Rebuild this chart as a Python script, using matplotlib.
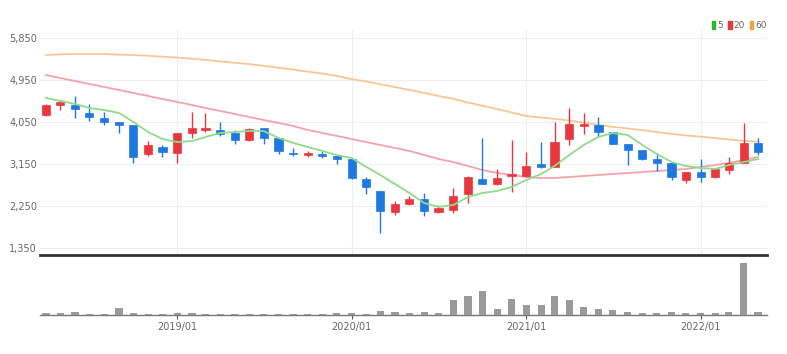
import numpy as np, pandas as pd
import matplotlib; matplotlib.use('Agg'); import matplotlib.pyplot as plt
import matplotlib.dates as mdates
from matplotlib.patches import Patch

plt.rcParams['font.family'] = ['Liberation Sans Narrow', 'DejaVu Sans']

# ---------------- data (monthly candles, 2018/04 .. 2022/05) ----------------
months = pd.date_range('2018-04-01', periods=50, freq='MS')
opens = [4193, 4407, 4407, 4236, 4129, 4043, 3980, 3359, 3509, 3381,
         3809, 3873, 3873, 3809, 3659, 3916, 3702, 3381, 3338, 3359,
         3317, 3252, 2825, 2569, 2121, 2291, 2398, 2121, 2164, 2505,
         2825, 2718, 2889, 2889, 3146, 3082, 3680, 3958, 3980, 3830,
         3573, 3445, 3252, 3167, 2804, 2975, 2868, 3017, 3167, 3595]
closes = [4407, 4471, 4321, 4150, 4043, 3980, 3295, 3552, 3402, 3809,
          3916, 3916, 3787, 3659, 3894, 3702, 3424, 3359, 3381, 3327,
          3252, 2846, 2654, 2142, 2291, 2398, 2142, 2206, 2462, 2868,
          2718, 2846, 2932, 3103, 3082, 3616, 4001, 4001, 3830, 3573,
          3445, 3252, 3167, 2868, 2975, 2868, 3039, 3167, 3595, 3402]
highs = [4428, 4514, 4600, 4428, 4257, 4043, 3980, 3637, 3552, 3809,
         4257, 4236, 4043, 3873, 3916, 3916, 3702, 3488, 3424, 3424,
         3317, 3260, 2868, 2569, 2355, 2462, 2526, 2270, 2633, 2889,
         3702, 3039, 3659, 3402, 3616, 4043, 4343, 4236, 4150, 3830,
         3573, 3445, 3381, 3167, 2975, 3252, 3039, 3295, 4022, 3702]
lows = [4172, 4300, 4129, 4065, 3980, 3809, 3167, 3317, 3295, 3167,
        3702, 3830, 3745, 3573, 3637, 3573, 3359, 3317, 3295, 3274,
        3146, 2830, 2505, 1670, 2057, 2270, 2035, 2099, 2099, 2313,
        2718, 2697, 2547, 2868, 3060, 3082, 3552, 3787, 3723, 3573,
        3124, 3231, 2996, 2804, 2740, 2761, 2846, 2932, 3167, 3338]
ma5 = [4557, 4493, 4428, 4343, 4300, 4236, 4044, 3830, 3680, 3616,
       3637, 3723, 3808, 3830, 3851, 3851, 3702, 3595, 3509, 3424,
       3338, 3274, 3082, 2911, 2718, 2526, 2312, 2227, 2269, 2440,
       2526, 2568, 2654, 2804, 2932, 3103, 3338, 3552, 3723, 3808,
       3766, 3552, 3360, 3188, 3103, 3060, 3039, 3124, 3188, 3253]
ma20 = [5049, 4984, 4920, 4856, 4792, 4728, 4664, 4600, 4535, 4471,
        4407, 4343, 4279, 4215, 4151, 4086, 4022, 3958, 3873, 3809,
        3745, 3680, 3616, 3552, 3488, 3424, 3338, 3253, 3188, 3103,
        3017, 2953, 2911, 2868, 2846, 2846, 2868, 2889, 2911, 2932,
        2953, 2975, 2996, 3017, 3039, 3082, 3124, 3167, 3231, 3295]
ma60 = [5476, 5490, 5498, 5498, 5495, 5485, 5475, 5460, 5440, 5420,
        5395, 5370, 5340, 5310, 5280, 5245, 5205, 5165, 5120, 5080,
        5030, 4960, 4910, 4850, 4790, 4730, 4665, 4600, 4540, 4460,
        4390, 4320, 4250, 4170, 4140, 4110, 4075, 4030, 3980, 3940,
        3905, 3870, 3830, 3790, 3755, 3730, 3700, 3670, 3640, 3620]
volumes = [17000, 17000, 27000, 10000, 10000, 73000, 23000, 10000, 10000, 23000,
           23000, 12000, 12000, 12000, 12000, 12000, 12000, 12000, 12000, 12000,
           23000, 23000, 10000, 43000, 27000, 20000, 30000, 20000, 150000, 190000,
           240000, 60000, 160000, 95000, 95000, 190000, 145000, 75000, 60000, 45000,
           27000, 17000, 23000, 27000, 17000, 23000, 17000, 27000, 520000, 30000]
yticks = [1350, 2250, 3150, 4050, 4950, 5850]
xticks = pd.to_datetime(['2019-01-01', '2020-01-01', '2021-01-01', '2022-01-01'])

UP, DOWN = '#e8373e', '#1f78e0'

fig = plt.figure(figsize=(7.87, 3.54), dpi=100)
ax = fig.add_axes([0.0508, 0.2797, 0.9238, 0.6356])
axv = fig.add_axes([0.0508, 0.1102, 0.9238, 0.1638], sharex=ax)

o = np.array(opens); c = np.array(closes)
cols = [UP if cc >= oo else DOWN for oo, cc in zip(o, c)]
ax.vlines(months, lows, highs, colors=cols, lw=1, zorder=3)
ax.bar(months, np.maximum(np.abs(c - o), 15), bottom=np.minimum(o, c), width=17,
       color=cols, edgecolor=cols, lw=0.5, zorder=4)
ax.plot(months, ma60, color='#f8c797', lw=1.3, zorder=2)
ax.plot(months, ma20, color='#f5a3ab', lw=1.3, zorder=2)
ax.plot(months, ma5, color='#8edb8a', lw=1.3, zorder=5)

ax.set_ylim(1200, 6011)
ax.set_yticks(yticks)
ax.set_yticklabels([f'{v:,}' for v in yticks])
ax.tick_params(axis='y', length=0, pad=2, labelsize=7, labelcolor='#666666')
ax.set_xticks(xticks)
ax.tick_params(axis='x', length=0, labelbottom=False)
ax.grid(True, color='#eeeeee', lw=0.8)
ax.set_axisbelow(True)
for s in ['top', 'right', 'left']:
    ax.spines[s].set_visible(False)
ax.spines['bottom'].set_color('#333333')
ax.spines['bottom'].set_linewidth(2)

axv.bar(months, volumes, width=15, color='#9a9a9a', zorder=3)
axv.set_ylim(0, 580000)
axv.set_yticks([])
axv.set_xlim(months[0] - pd.Timedelta(days=12.5), months[-1] + pd.Timedelta(days=19))
axv.set_xticks(xticks)
axv.xaxis.set_major_formatter(mdates.DateFormatter('%Y/%m'))
axv.tick_params(axis='x', length=3, width=0.8, color='#555555', pad=2, labelsize=7, labelcolor='#666666')
for s in ['top', 'right', 'left']:
    axv.spines[s].set_visible(False)
axv.spines['bottom'].set_color('#777777')
axv.spines['bottom'].set_linewidth(1)

handles = [Patch(color='#2fb52f', label='5'), Patch(color='#e8373e', label='20'),
           Patch(color='#f3a040', label='60')]
fig.legend(handles=handles, loc='upper right', bbox_to_anchor=(0.985, 0.965), ncol=3,
           frameon=False, fontsize=6.5, handlelength=0.4, handleheight=1.0,
           handletextpad=0.25, columnspacing=0.5, labelcolor='#666666')

fig.savefig('out.png', dpi=100)
